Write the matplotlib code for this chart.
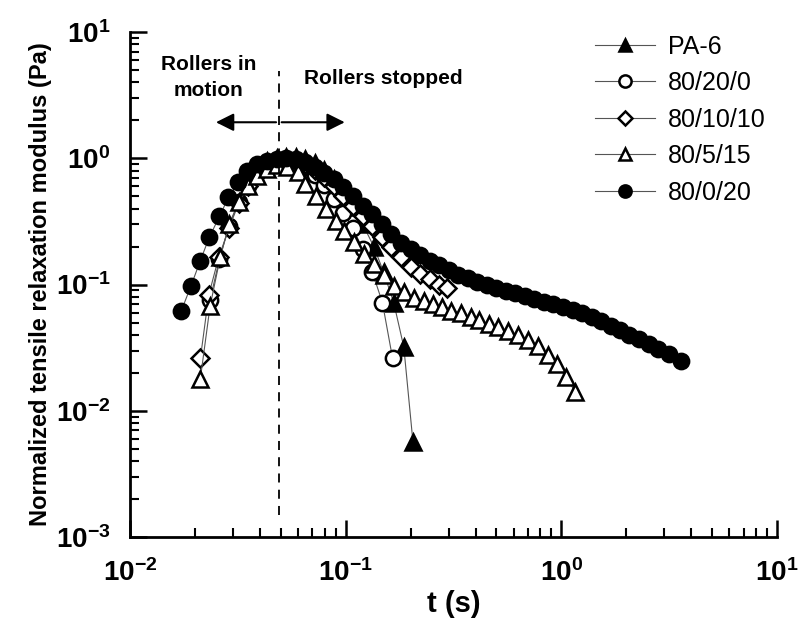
import matplotlib
matplotlib.use('Agg')
import matplotlib.pyplot as plt

plt.rcParams['font.family'] = ['Liberation Sans', 'DejaVu Sans']
plt.rcParams['mathtext.fontset'] = 'custom'
plt.rcParams['mathtext.rm'] = 'Liberation Sans:bold'
plt.rcParams['mathtext.it'] = 'Liberation Sans:bold'
plt.rcParams['mathtext.bf'] = 'Liberation Sans:bold'

# PA-6
t_pa6 = [0.039, 0.0432, 0.0479, 0.053, 0.0587, 0.065, 0.072, 0.0797, 0.0882, 0.0977,
         0.108, 0.12, 0.135, 0.15, 0.167, 0.186, 0.205]
g_pa6 = [0.86, 0.95, 1.01, 1.03, 1.02, 0.98, 0.91, 0.81, 0.68, 0.54,
         0.41, 0.3, 0.2, 0.125, 0.072, 0.032, 0.0057]

# 80/20/0
t_8020 = [0.0235, 0.026, 0.0288, 0.0319, 0.0353, 0.039, 0.0432, 0.0479, 0.053, 0.0587,
          0.065, 0.072, 0.0797, 0.0882, 0.0977, 0.108, 0.12, 0.133, 0.148, 0.165]
g_8020 = [0.075, 0.16, 0.29, 0.45, 0.6, 0.76, 0.88, 0.95, 0.97, 0.93,
          0.85, 0.74, 0.61, 0.48, 0.37, 0.28, 0.19, 0.125, 0.072, 0.026]

# 80/10/10
t_801010 = [0.0212, 0.0232, 0.0258, 0.0288, 0.0319, 0.0353, 0.039, 0.0432, 0.0479, 0.053,
            0.0587, 0.065, 0.072, 0.0797, 0.0882, 0.0977, 0.108, 0.12, 0.133, 0.147,
            0.163, 0.18, 0.2, 0.221, 0.245, 0.271, 0.295]
g_801010 = [0.026, 0.083, 0.165, 0.28, 0.44, 0.6, 0.75, 0.86, 0.94, 0.97,
            0.95, 0.9, 0.81, 0.71, 0.6, 0.5, 0.42, 0.35, 0.29, 0.24,
            0.198, 0.165, 0.138, 0.122, 0.11, 0.1, 0.094]

# 80/5/15
t_80515 = [0.0212, 0.0235, 0.0262, 0.0288, 0.0319, 0.0353, 0.039, 0.0432, 0.0479, 0.0535,
           0.06, 0.065, 0.0725, 0.081, 0.09, 0.098, 0.109, 0.121, 0.135, 0.15,
           0.167, 0.186, 0.207, 0.23, 0.254, 0.28, 0.307, 0.344, 0.38, 0.415,
           0.46, 0.51, 0.567, 0.63, 0.70, 0.78, 0.87, 0.95, 1.05, 1.16]
g_80515 = [0.018, 0.067, 0.164, 0.3, 0.45, 0.6, 0.73, 0.83, 0.88, 0.86,
           0.775, 0.63, 0.5, 0.4, 0.32, 0.265, 0.218, 0.175, 0.145, 0.12,
           0.098, 0.088, 0.078, 0.074, 0.07, 0.066, 0.062, 0.059, 0.055, 0.052,
           0.049, 0.046, 0.043, 0.0395, 0.0365, 0.0323, 0.0279, 0.0233, 0.0186, 0.0141]

# 80/0/20
t_80020 = [0.0173, 0.0192, 0.0212, 0.0233, 0.026, 0.0286, 0.0318, 0.035, 0.039, 0.0432,
           0.0479, 0.053, 0.0587, 0.065, 0.072, 0.0797, 0.0882, 0.0977, 0.108, 0.12,
           0.133, 0.147, 0.163, 0.18, 0.2, 0.221, 0.245, 0.271, 0.3, 0.332,
           0.368, 0.407, 0.451, 0.499, 0.553, 0.612, 0.677, 0.75, 0.83, 0.919,
           1.02, 1.13, 1.25, 1.38, 1.53, 1.69, 1.87, 2.07, 2.29, 2.54,
           2.81, 3.15, 3.6]
g_80020 = [0.062, 0.098, 0.155, 0.236, 0.347, 0.49, 0.645, 0.79, 0.9, 0.96,
           0.99, 1.0, 0.98, 0.93, 0.86, 0.77, 0.68, 0.59, 0.5, 0.42,
           0.36, 0.3, 0.25, 0.215, 0.19, 0.17, 0.155, 0.142, 0.13, 0.12,
           0.112, 0.105, 0.099, 0.094, 0.089, 0.085, 0.081, 0.077, 0.073, 0.07,
           0.066, 0.063, 0.059, 0.055, 0.051, 0.047, 0.044, 0.04, 0.037, 0.034,
           0.031, 0.028, 0.025]

fig = plt.figure(figsize=(7.99, 6.29), dpi=100)
ax = fig.add_axes([0.1627, 0.1463, 0.8098, 0.8027])

line_kw = dict(color='#555555', linewidth=0.8, markersize=11,
               markeredgecolor='black', markeredgewidth=1.8)
ax.plot(t_pa6, g_pa6, marker='^', markerfacecolor='black', label='PA-6', **line_kw)
ax.plot(t_8020, g_8020, marker='o', markerfacecolor='white', label='80/20/0', **line_kw)
ax.plot(t_801010, g_801010, marker='D', markerfacecolor='white', label='80/10/10',
        **dict(line_kw, markersize=9.5))
ax.plot(t_80515, g_80515, marker='^', markerfacecolor='white', label='80/5/15', **line_kw)
ax.plot(t_80020, g_80020, marker='o', markerfacecolor='black', label='80/0/20', **line_kw)

ax.set_xscale('log')
ax.set_yscale('log')
ax.set_xlim(0.01, 10)
ax.set_ylim(0.001, 10)

ax.set_xticks([0.01, 0.1, 1, 10])
ax.set_xticklabels([r'$10^{-2}$', r'$10^{-1}$', r'$10^{0}$', r'$10^{1}$'])
ax.set_yticks([0.001, 0.01, 0.1, 1, 10])
ax.set_yticklabels([r'$10^{-3}$', r'$10^{-2}$', r'$10^{-1}$', r'$10^{0}$', r'$10^{1}$'])

ax.spines['top'].set_visible(False)
ax.spines['right'].set_visible(False)
for s in ['left', 'bottom']:
    ax.spines[s].set_linewidth(2)
ax.tick_params(which='major', direction='in', length=12, width=1.8, labelsize=20, pad=14)
ax.tick_params(which='minor', direction='in', length=6.5, width=1.5)
ax.tick_params(axis='x', which='major', pad=16)

# dashed line and arrows
ax.plot([0.049, 0.049], [0.0015, 4.9], color='black', linestyle=(0, (5, 4)), linewidth=1.3)
arrow = dict(arrowstyle='-|>', color='black', linewidth=1.5, mutation_scale=27)
ax.annotate('', xy=(0.0243, 1.93), xytext=(0.049, 1.93), arrowprops=arrow)
ax.annotate('', xy=(0.102, 1.93), xytext=(0.049, 1.93), arrowprops=arrow)

ax.text(0.0231, 4.35, 'Rollers in\nmotion', ha='center', va='center',
        fontsize=15, fontweight='bold', linespacing=1.5)
ax.text(0.064, 4.3, 'Rollers stopped', ha='left', va='center',
        fontsize=15, fontweight='bold')

ax.set_xlabel('t (s)', fontsize=21, fontweight='bold', labelpad=2)
ax.set_ylabel('Normalized tensile relaxation modulus (Pa)', fontsize=17,
              fontweight='bold', labelpad=3)

leg = ax.legend(loc='upper left', bbox_to_anchor=(0.745, 0.945),
                bbox_transform=fig.transFigure, frameon=False, fontsize=18,
                handlelength=2.4, handletextpad=0.5, labelspacing=0.5,
                borderpad=0, borderaxespad=0, markerscale=0.8)

fig.savefig('out.png', dpi=100)
